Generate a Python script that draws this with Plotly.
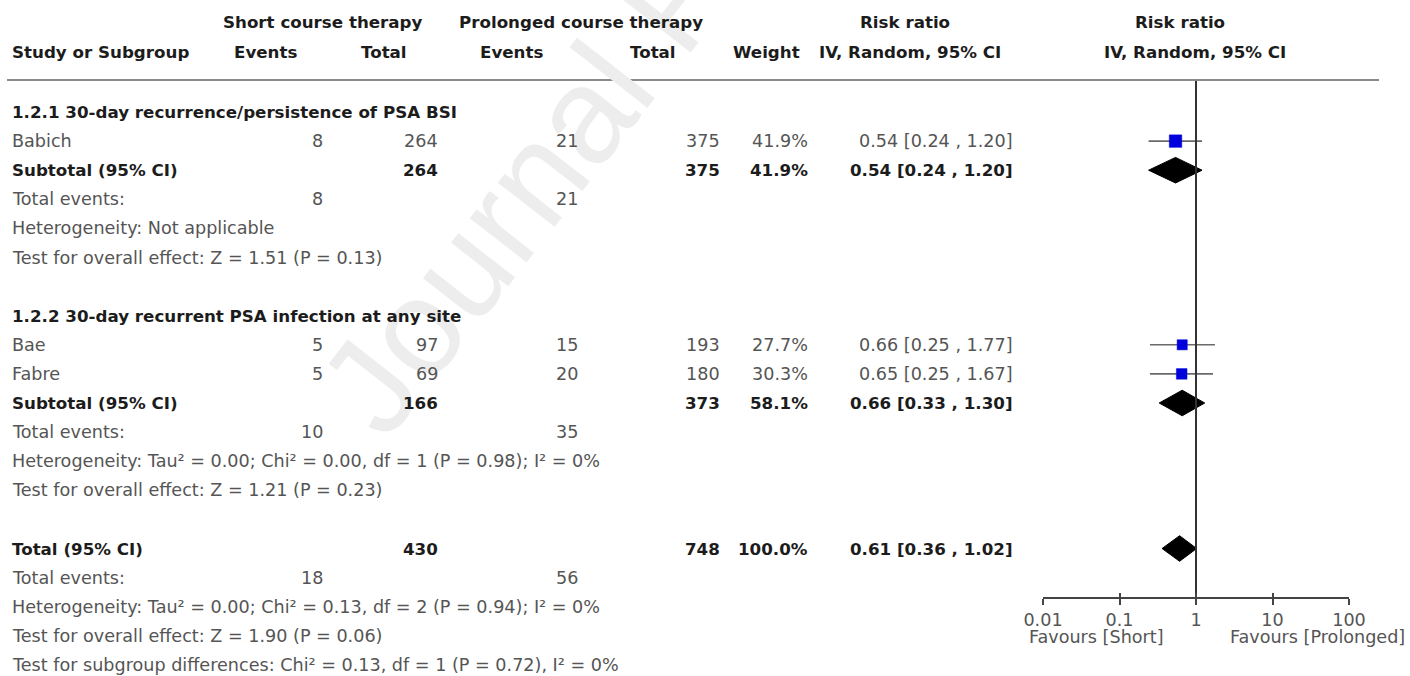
import plotly.graph_objects as go

W, H = 1410, 676

# ---- individual studies ----
study_names = ["Babich", "Bae", "Fabre"]
study_group = [0, 1, 1]
short_events = [8, 5, 5]
short_total = [264, 97, 69]
prol_events = [21, 15, 20]
prol_total = [375, 193, 180]
study_weight = [41.9, 27.7, 30.3]
study_rr = [0.54, 0.66, 0.65]
study_lo = [0.24, 0.25, 0.25]
study_hi = [1.20, 1.77, 1.67]

# ---- subgroups ----
group_titles = ["1.2.1 30-day recurrence/persistence of PSA BSI",
                "1.2.2 30-day recurrent PSA infection at any site"]
group_rr = [0.54, 0.66]
group_lo = [0.24, 0.33]
group_hi = [1.20, 1.30]
group_weight = [41.9, 58.1]
group_short_total = [264, 166]
group_prol_total = [375, 373]
group_short_events = [8, 10]
group_prol_events = [21, 35]
group_heterogeneity = ["Heterogeneity: Not applicable",
                       "Heterogeneity: Tau² = 0.00; Chi² = 0.00, df = 1 (P = 0.98); I² = 0%"]
group_effect = ["Test for overall effect: Z = 1.51 (P = 0.13)",
                "Test for overall effect: Z = 1.21 (P = 0.23)"]

# ---- overall ----
total_rr, total_lo, total_hi = 0.61, 0.36, 1.02
total_weight = 100.0
total_short_total, total_prol_total = 430, 748
total_short_events, total_prol_events = 18, 56
total_heterogeneity = "Heterogeneity: Tau² = 0.00; Chi² = 0.13, df = 2 (P = 0.94); I² = 0%"
total_effect = "Test for overall effect: Z = 1.90 (P = 0.06)"
subgroup_test = "Test for subgroup differences: Chi² = 0.13, df = 1 (P = 0.72), I² = 0%"

# ---- axis ----
axis_ticks = [0.01, 0.1, 1, 10, 100]
axis_labels = ["0.01", "0.1", "1", "10", "100"]
favours_labels = ["Favours [Short]", "Favours [Prolonged]"]

# ---------------- layout constants ----------------
FONT = "DejaVu Sans"
BODY = 17.6
BOLD = 16.7
GREY = "#555555"
DARK = "#1c1c1c"
ROW_TOP, PITCH = 112, 29.1          # pixel centre of first row, row spacing


def px(x):
    return x / W


def py(y):
    return 1 - y / H


def row_of_pixel(y):
    return (y - ROW_TOP) / PITCH


# right edges of the numeric columns
COL_STUDY = 10
COL_SE, COL_ST, COL_PE, COL_PT, COL_W, COL_CI = 325, 440, 580, 722, 810, 1015

annotations = []

# faint diagonal watermark
annotations.append(dict(text="Journal Pre-proof", x=px(672), y=py(0), xref="paper", yref="paper",
                        xanchor="center", yanchor="middle", textangle=-52, showarrow=False,
                        font=dict(family="Liberation Sans", size=136, color="#ededed")))


def put(text, x, row, anchor="right", bold=False):
    annotations.append(dict(
        text=f"<b>{text}</b>" if bold else text,
        x=px(x), y=row, xref="paper", yref="y", xanchor=anchor, yanchor="middle",
        showarrow=False,
        font=dict(family=FONT, size=BOLD if bold else BODY, color=DARK if bold else GREY)))


def header(text, x, y):
    annotations.append(dict(text=f"<b>{text}</b>", x=px(x), y=py(y), xref="paper", yref="paper",
                            xanchor="center", yanchor="middle", showarrow=False,
                            font=dict(family=FONT, size=BOLD, color=DARK)))


def ci_text(r, lo, hi):
    return f"{r:.2f} [{lo:.2f} , {hi:.2f}]"


# column headers
header("Short course therapy", 323, 22)
header("Prolonged course therapy", 581, 22)
header("Risk ratio", 905, 22)
header("Risk ratio", 1180, 22)
annotations.append(dict(text="<b>Study or Subgroup</b>", x=px(COL_STUDY), y=py(52), xref="paper",
                        yref="paper", xanchor="left", yanchor="middle", showarrow=False,
                        font=dict(family=FONT, size=BOLD, color=DARK)))
header("Events", 265, 52)
header("Total", 384, 52)
header("Events", 511, 52)
header("Total", 653, 52)
header("Weight", 767, 52)
header("IV, Random, 95% CI", 910, 52)
header("IV, Random, 95% CI", 1195, 52)

# table body
study_rows, diamond_rows = [], []
i = 0
for g in range(len(group_titles)):
    put(group_titles[g], COL_STUDY, i, anchor="left", bold=True)
    i += 1
    for s in range(len(study_names)):
        if study_group[s] != g:
            continue
        put(study_names[s], COL_STUDY, i, anchor="left")
        put(str(short_events[s]), COL_SE, i)
        put(str(short_total[s]), COL_ST, i)
        put(str(prol_events[s]), COL_PE, i)
        put(str(prol_total[s]), COL_PT, i)
        put(f"{study_weight[s]:.1f}%", COL_W, i)
        put(ci_text(study_rr[s], study_lo[s], study_hi[s]), COL_CI, i)
        study_rows.append(i)
        i += 1
    put("Subtotal (95% CI)", COL_STUDY, i, anchor="left", bold=True)
    put(str(group_short_total[g]), COL_ST, i, bold=True)
    put(str(group_prol_total[g]), COL_PT, i, bold=True)
    put(f"{group_weight[g]:.1f}%", COL_W, i, bold=True)
    put(ci_text(group_rr[g], group_lo[g], group_hi[g]), COL_CI, i, bold=True)
    diamond_rows.append(i)
    i += 1
    put("Total events:", COL_STUDY, i, anchor="left")
    put(str(group_short_events[g]), COL_SE, i)
    put(str(group_prol_events[g]), COL_PE, i)
    i += 1
    put(group_heterogeneity[g], COL_STUDY, i, anchor="left")
    i += 1
    put(group_effect[g], COL_STUDY, i, anchor="left")
    i += 2

put("Total (95% CI)", COL_STUDY, i, anchor="left", bold=True)
put(str(total_short_total), COL_ST, i, bold=True)
put(str(total_prol_total), COL_PT, i, bold=True)
put(f"{total_weight:.1f}%", COL_W, i, bold=True)
put(ci_text(total_rr, total_lo, total_hi), COL_CI, i, bold=True)
total_row = i
i += 1
put("Total events:", COL_STUDY, i, anchor="left")
put(str(total_short_events), COL_SE, i)
put(str(total_prol_events), COL_PE, i)
i += 1
put(total_heterogeneity, COL_STUDY, i, anchor="left")
i += 1
put(total_effect, COL_STUDY, i, anchor="left")
i += 1
put(subgroup_test, COL_STUDY, i, anchor="left")

# favours labels under the axis
for text, xc in zip(favours_labels, [1096, 1317]):
    annotations.append(dict(text=text, x=px(xc), y=py(637), xref="paper", yref="paper",
                            xanchor="center", yanchor="middle", showarrow=False,
                            font=dict(family=FONT, size=BODY, color=GREY)))

fig = go.Figure()

AXIS_Y = 597.5
TOP_Y = 80

# line of no effect
fig.add_trace(go.Scatter(x=[1, 1], y=[row_of_pixel(TOP_Y), row_of_pixel(AXIS_Y)], mode="lines",
                         line=dict(color="#333333", width=2), xaxis="x2", yaxis="y",
                         hoverinfo="skip"))

# study estimates with confidence intervals
sizes = [12.5 * (w / study_weight[0]) ** 0.5 for w in study_weight]
fig.add_trace(go.Scatter(
    x=study_rr, y=study_rows, mode="markers",
    marker=dict(symbol="square", size=sizes, color="#0000dd", opacity=1,
                line=dict(width=0.5, color="#0000dd")),
    error_x=dict(type="data", symmetric=False,
                 array=[h - r for h, r in zip(study_hi, study_rr)],
                 arrayminus=[r - l for r, l in zip(study_rr, study_lo)],
                 color="#6a6a6a", thickness=1.6, width=0),
    hoverinfo="skip"))

# pooled estimates as diamonds
HALF = 12.8 / PITCH
pooled = list(zip(group_rr, group_lo, group_hi, diamond_rows)) + [(total_rr, total_lo, total_hi, total_row)]
for r, lo, hi, row in pooled:
    fig.add_trace(go.Scatter(
        x=[lo, r, hi, r, lo], y=[row, row - HALF, row, row + HALF, row],
        mode="lines", fill="toself", fillcolor="#000000",
        line=dict(color="#000000", width=1), hoverinfo="skip"))

shapes = [dict(type="line", xref="paper", yref="paper", x0=px(7), x1=px(1379), y0=py(TOP_Y), y1=py(TOP_Y),
               line=dict(color="#8a8a8a", width=2))]

fig.update_layout(
    template="none",
    width=W, height=H, margin=dict(l=0, r=0, t=0, b=0, pad=0, autoexpand=False),
    paper_bgcolor="white", plot_bgcolor="rgba(0,0,0,0)", showlegend=False,
    annotations=annotations, shapes=shapes,
    xaxis=dict(type="log", range=[-2, 2], domain=[px(1043), px(1349)], anchor="free",
               position=py(AXIS_Y), showgrid=False, zeroline=False, showline=True,
               automargin=False,
               linecolor="#444444", linewidth=2, ticks="outside", ticklen=6, tickwidth=2,
               tickcolor="#444444", tickvals=axis_ticks, ticktext=axis_labels,
               tickfont=dict(family=FONT, size=BODY, color=GREY), fixedrange=True),
    xaxis2=dict(type="log", range=[-2, 2], overlaying="x", anchor="free", position=py(AXIS_Y),
                showgrid=False, zeroline=False, showline=False, ticks="inside", ticklen=5,
                automargin=False,
                tickwidth=2, tickcolor="#444444", tickvals=axis_ticks, showticklabels=False,
                fixedrange=True),
    yaxis=dict(range=[row_of_pixel(H), row_of_pixel(0)], domain=[0, 1], visible=False,
               automargin=False, fixedrange=True),
)

fig.write_html("out.html")
